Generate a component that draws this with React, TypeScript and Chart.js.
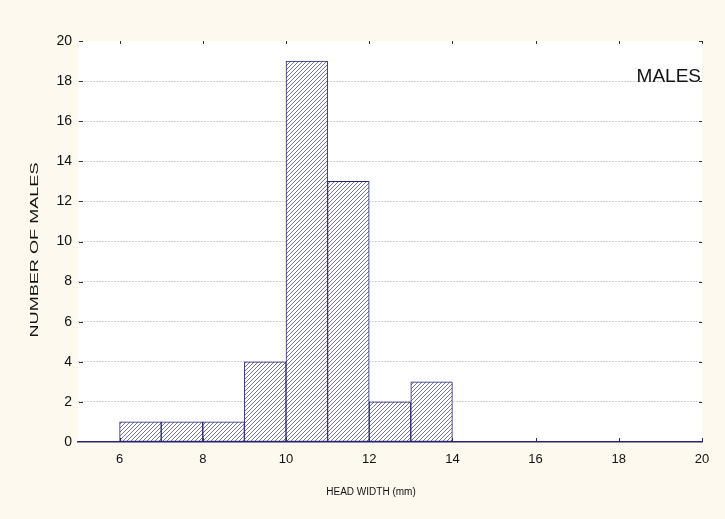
import React, { useEffect, useRef } from "react";
import { Chart, registerables } from "chart.js";

Chart.register(...registerables);

const binStarts = [6, 7, 8, 9, 10, 11, 12, 13];
const counts = [1, 1, 1, 4, 19, 13, 2, 3];
const xTicks = [6, 8, 10, 12, 14, 16, 18, 20];
const yTicks = [0, 2, 4, 6, 8, 10, 12, 14, 16, 18, 20];
const panelLabel = "MALES";
const xTitle = "HEAD WIDTH (mm)";
const yTitle = "NUMBER OF MALES";

const NAVY = "#26266e";
const FONT = "'Liberation Sans', Arial, sans-serif";

function makeHatch(): CanvasPattern | string {
  const c = document.createElement("canvas");
  c.width = 4;
  c.height = 4;
  const g = c.getContext("2d");
  if (!g) return "#ccc";
  g.fillStyle = "#ffffff";
  g.fillRect(0, 0, 4, 4);
  g.strokeStyle = "#555585";
  g.lineWidth = 0.8;
  g.beginPath();
  g.moveTo(0, 4);
  g.lineTo(4, 0);
  g.moveTo(-1, 1);
  g.lineTo(1, -1);
  g.moveTo(3, 5);
  g.lineTo(5, 3);
  g.stroke();
  return g.createPattern(c, "repeat") || "#ccc";
}

const decorPlugin = {
  id: "decor",
  beforeDraw(chart: any) {
    const { ctx, chartArea: a, width, height } = chart;
    ctx.save();
    ctx.fillStyle = "#fdf9ee";
    ctx.fillRect(0, 0, width, height);
    ctx.fillStyle = "#ffffff";
    ctx.fillRect(a.left, a.top, a.right - a.left, a.bottom - a.top);
    ctx.restore();
  },
  afterDraw(chart: any) {
    const { ctx, chartArea: a, scales } = chart;
    const xs = scales.x;
    const ys = scales.y;
    ctx.save();
    ctx.strokeStyle = "#333";
    ctx.lineWidth = 1;
    ctx.beginPath();
    for (const v of yTicks) {
      if (v === 0) continue;
      const y = Math.round(ys.getPixelForValue(v)) + 0.5;
      ctx.moveTo(a.left + 1, y);
      ctx.lineTo(a.left + 5, y);
      ctx.moveTo(a.right - 3, y);
      ctx.lineTo(a.right, y);
    }
    for (const v of xTicks) {
      const x = Math.round(xs.getPixelForValue(v)) + 0.5;
      ctx.moveTo(x, a.top);
      ctx.lineTo(x, a.top + 3);
    }
    ctx.stroke();
    ctx.strokeStyle = NAVY;
    ctx.beginPath();
    for (const v of xTicks) {
      const x = Math.round(xs.getPixelForValue(v)) + 0.5;
      ctx.moveTo(x, a.bottom);
      ctx.lineTo(x, a.bottom - 4);
    }
    ctx.stroke();

    ctx.fillStyle = "#111";
    ctx.font = `19px ${FONT}`;
    ctx.textAlign = "right";
    ctx.textBaseline = "middle";
    ctx.fillText(panelLabel, a.right - 1, ys.getPixelForValue(18.2));

    // x axis title
    ctx.font = `10px ${FONT}`;
    ctx.textAlign = "center";
    ctx.fillText(xTitle, a.left + 293, 492);

    // y axis title (stretched along its length, as in the reference)
    ctx.save();
    ctx.translate(35, 250);
    ctx.rotate(-Math.PI / 2);
    ctx.font = `10px ${FONT}`;
    const w = ctx.measureText(yTitle).width;
    ctx.scale(175 / w, 1);
    ctx.textAlign = "center";
    ctx.fillText(yTitle, 0, 0);
    ctx.restore();

    ctx.restore();
  },
};

export default function App() {
  const ref = useRef<HTMLCanvasElement | null>(null);
  useEffect(() => {
    document.body.style.margin = "0";
    if (!ref.current) return;
    const hatch = makeHatch();
    const chart = new Chart(ref.current, {
      type: "bar",
      data: {
        datasets: [
          {
            data: binStarts.map((s, i) => ({ x: s + 0.5, y: counts[i] })),
            backgroundColor: hatch as any,
            borderColor: NAVY,
            borderWidth: 1,
            borderSkipped: false,
            barPercentage: 1,
            categoryPercentage: 1,
          },
        ],
      },
      options: {
        animation: false,
        responsive: false,
        maintainAspectRatio: false,
        layout: { padding: { top: 41, right: 23, left: 0, bottom: 0 } },
        plugins: { legend: { display: false }, tooltip: { enabled: false } },
        scales: {
          x: {
            type: "linear",
            min: 5,
            max: 20,
            offset: false,
            afterBuildTicks: (s: any) => {
              s.ticks = xTicks.map((v) => ({ value: v }));
            },
            afterFit: (s: any) => {
              s.height = 77;
            },
            grid: { display: false, drawTicks: false, offset: false },
            border: { display: true, color: NAVY, width: 1.5 },
            ticks: {
              color: "#111",
              font: { size: 13, family: FONT },
              padding: 10,
            },
            title: { display: false },
          },
          y: {
            min: 0,
            max: 20,
            afterBuildTicks: (s: any) => {
              s.ticks = yTicks.map((v) => ({ value: v }));
            },
            afterFit: (s: any) => {
              s.width = 78;
            },
            grid: {
              drawTicks: false,
              color: (c: any) =>
                c.tick && (c.tick.value === 0 || c.tick.value === 20)
                  ? "rgba(0,0,0,0)"
                  : "#d2d2d2",
              lineWidth: 1,
            },
            border: { display: false, dash: [2, 1] },
            ticks: {
              color: "#111",
              font: { size: 14, family: FONT },
              padding: 6,
            },
            title: { display: false },
          },
        },
      },
      plugins: [decorPlugin],
    });
    return () => chart.destroy();
  }, []);
  return (
    <div style={{ position: "absolute", left: 0, top: 0, width: 725, height: 519 }}>
      <canvas ref={ref} width={725} height={519} style={{ display: "block" }} />
    </div>
  );
}
